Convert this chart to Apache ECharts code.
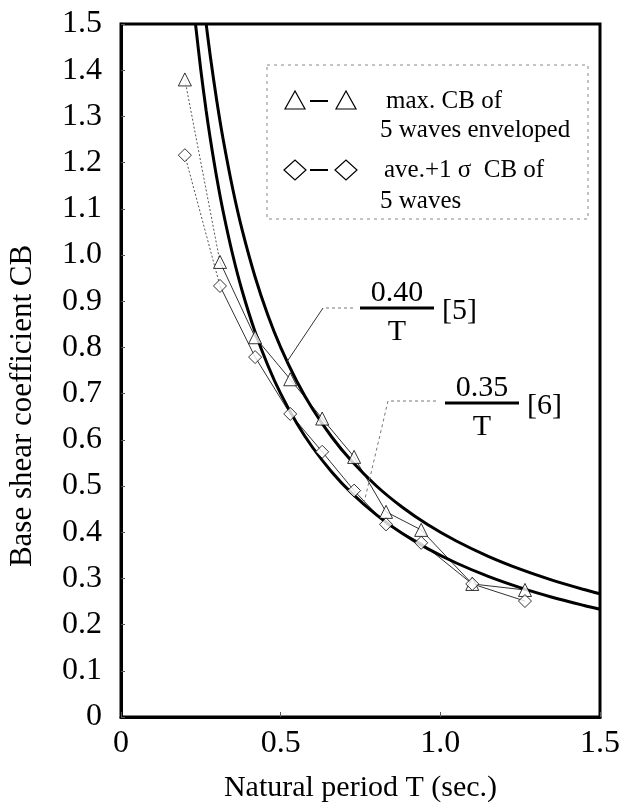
<!DOCTYPE html>
<html>
<head>
<meta charset="utf-8">
<script src="https://cdn.jsdelivr.net/npm/echarts@6/dist/echarts.min.js"></script>
<style>
html,body{margin:0;padding:0;background:#fff;}
#c{width:623px;height:809px;}
</style>
</head>
<body>
<div id="c"></div>
<script>
// ---- data ----
var periods = [0.20, 0.31, 0.42, 0.53, 0.63, 0.73, 0.83, 0.94, 1.10, 1.265];
var maxCB   = [1.38, 0.985, 0.822, 0.731, 0.646, 0.563, 0.444, 0.405, 0.288, 0.275];
var aveCB   = [1.216, 0.933, 0.779, 0.656, 0.574, 0.49, 0.417, 0.377, 0.288, 0.251];
// design formulas CB = c / T
var formulaCoef = [0.40, 0.35];
var formulaRef = ['[5]', '[6]'];
var curvePeriods = [0.2333, 0.25, 0.2667, 0.28, 0.30, 0.32, 0.35, 0.38, 0.42, 0.46, 0.50, 0.55, 0.60, 0.66, 0.72, 0.80, 0.88, 0.96, 1.05, 1.15, 1.25, 1.35, 1.45, 1.50];
var xTicks = ['0', '0.5', '1.0', '1.5'];
var xTitle = 'Natural period T (sec.)';
var yTitle = 'Base shear coefficient CB';
var legendText = [['max. CB of', '5 waves enveloped'], ['ave.+1 σ  CB of', '5 waves']];

var FONT = '"Liberation Serif", "DejaVu Serif", serif';

function pairs(xs, ys) { return xs.map(function (x, i) { return [x, ys[i]]; }); }
function curve(c) {
  var lo = c / 1.5;
  return curvePeriods.filter(function (t) { return t >= lo - 1e-3; })
    .map(function (t) { return [t, Math.min(c / t, 1.5)]; });
}

var chart = echarts.init(document.getElementById('c'));

function markerSeries(ys, sym) {
  var pts = pairs(periods, ys);
  return [
    { type: 'line', data: pts.slice(0, 2), symbol: 'none', silent: true,
      lineStyle: { color: '#555', width: 1, type: [2, 2] }, z: 3 },
    { type: 'line', data: pts.slice(1), symbol: 'none', silent: true,
      lineStyle: { color: '#333', width: 1 }, z: 3 },
    { type: 'scatter', data: pts, symbol: sym, symbolSize: 13,
      itemStyle: { color: '#fff', borderColor: '#000', borderWidth: 1 }, z: 5 }
  ];
}

var series = [];
formulaCoef.forEach(function (c) {
  series.push({ type: 'line', data: curve(c), symbol: 'none', smooth: 0.3,
    lineStyle: { color: '#000', width: 3 }, z: 4, silent: true });
});
series = series.concat(markerSeries(maxCB, 'triangle'), markerSeries(aveCB, 'diamond'));

chart.setOption({
  animation: false,
  backgroundColor: '#fff',
  grid: { left: 121, right: 23, top: 24, bottom: 92, containLabel: false, outerBoundsMode: 'none',
    show: true, borderColor: '#000', borderWidth: 3 },
  xAxis: {
    type: 'value', min: 0, max: 1.5, interval: 0.5,
    name: xTitle, nameLocation: 'middle', nameGap: 56,
    nameTextStyle: { fontFamily: FONT, fontSize: 30, color: '#000' },
    axisLine: { show: true, lineStyle: { color: '#000', width: 3 } },
    axisTick: { show: true, inside: true, length: 5, lineStyle: { color: '#555', width: 1 } },
    axisLabel: { fontFamily: FONT, fontSize: 32, color: '#000', margin: 11,
      formatter: function (v) { return xTicks[Math.round(v / 0.5)]; } },
    splitLine: { show: false }
  },
  yAxis: {
    type: 'value', min: 0, max: 1.5, interval: 0.1,
    axisLine: { show: true, lineStyle: { color: '#000', width: 3 } },
    axisTick: { show: true, inside: true, length: 4, lineStyle: { color: '#555', width: 1 } },
    axisLabel: { fontFamily: FONT, fontSize: 32, color: '#000', margin: 19,
      formatter: function (v) { return v === 0 ? '0' : v.toFixed(1); } },
    splitLine: { show: false }
  },
  series: series
});

// ---- annotations & legend box ----
function px(x, y) { return chart.convertToPixel({ gridIndex: 0 }, [x, y]); }
var g = [];
// y-axis title (placed slightly below the plot middle, as in the figure)
g.push({ type: 'text', x: 23, y: 406, rotation: Math.PI / 2,
  style: { text: yTitle, font: '31px ' + FONT, fill: '#000', textAlign: 'center', textVerticalAlign: 'middle' }, z: 11 });
// legend box
g.push({ type: 'rect', shape: { x: 267, y: 65, width: 321, height: 154 },
  style: { fill: null, stroke: '#888', lineWidth: 1, lineDash: [3, 4] }, z: 10 });
var rowsY = [[101, 130], [170, 201]];
legendText.forEach(function (rows, i) {
  var sym = i === 0 ? 'triangle' : 'diamond';
  var y = rowsY[i][0];
  [295, 346].forEach(function (cx) {
    var pts = sym === 'triangle'
      ? [[cx - 10, y + 8], [cx + 10, y + 8], [cx, y - 10]]
      : [[cx - 11, y], [cx, y - 10], [cx + 11, y], [cx, y + 10]];
    g.push({ type: 'polygon', shape: { points: pts },
      style: { fill: '#fff', stroke: '#000', lineWidth: 1.2 }, z: 11 });
  });
  g.push({ type: 'line', shape: { x1: 310, y1: y, x2: 328, y2: y },
    style: { stroke: '#000', lineWidth: 2 }, z: 11 });
  g.push({ type: 'text', x: i === 0 ? 386 : 384, y: rowsY[i][0],
    style: { text: rows[0], font: '25px ' + FONT, fill: '#000', textVerticalAlign: 'middle' }, z: 11 });
  g.push({ type: 'text', x: 380, y: rowsY[i][1],
    style: { text: rows[1], font: '25px ' + FONT, fill: '#000', textVerticalAlign: 'middle' }, z: 11 });
});

// formula labels
var fracPos = [{ x: 360, y: 308 }, { x: 445, y: 403 }];
formulaCoef.forEach(function (c, i) {
  var p = fracPos[i];
  g.push({ type: 'line', shape: { x1: p.x, y1: p.y, x2: p.x + 74, y2: p.y },
    style: { stroke: '#000', lineWidth: 3 }, z: 11 });
  g.push({ type: 'text', x: p.x + 37, y: p.y - 15,
    style: { text: c.toFixed(2), font: '30px ' + FONT, fill: '#000', textAlign: 'center', textVerticalAlign: 'middle' }, z: 11 });
  g.push({ type: 'text', x: p.x + 37, y: p.y + 24,
    style: { text: 'T', font: '30px ' + FONT, fill: '#000', textAlign: 'center', textVerticalAlign: 'middle' }, z: 11 });
  g.push({ type: 'text', x: p.x + 82, y: p.y + 3,
    style: { text: formulaRef[i], font: '30px ' + FONT, fill: '#000', textVerticalAlign: 'middle' }, z: 11 });
});
// leader lines
var a1 = px(0.52, 0.40 / 0.52);
g.push({ type: 'polyline', shape: { points: [[353, 308], [323, 308]] },
  style: { stroke: '#777', lineWidth: 1, lineDash: [3, 3], fill: null }, z: 11 });
g.push({ type: 'line', shape: { x1: 323, y1: 308, x2: a1[0], y2: a1[1] },
  style: { stroke: '#333', lineWidth: 1 }, z: 11 });
var a2 = px(0.76, 0.35 / 0.76);
g.push({ type: 'polyline', shape: { points: [[436, 401], [388, 401], [a2[0], a2[1]]] },
  style: { stroke: '#777', lineWidth: 1, lineDash: [3, 3], fill: null }, z: 11 });

chart.setOption({ graphic: g });
</script>
</body>
</html>
